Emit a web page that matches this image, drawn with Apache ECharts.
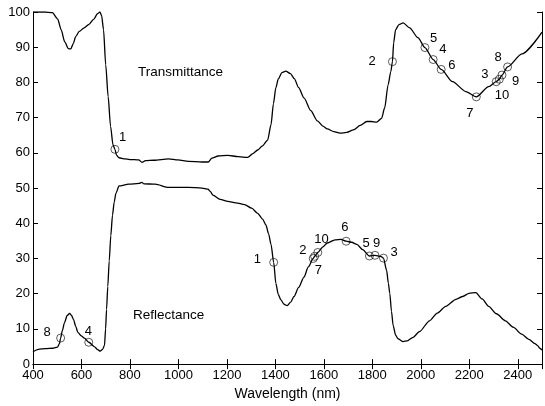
<!DOCTYPE html>
<html>
<head>
<meta charset="utf-8">
<script src="https://cdn.jsdelivr.net/npm/echarts@6/dist/echarts.min.js"></script>
<style>
  html, body { margin: 0; padding: 0; background: #fff; }
  #chart { width: 545px; height: 406px; }
</style>
</head>
<body>
<div id="chart"></div>
<script>
// Leaf spectra: transmittance and reflectance (%) against wavelength (nm)
const transmittance = [
  [400,100],[450,100],[480,99.8],[502,98],[516,95],[531,91.5],[546,89.6],[556,89.5],[566,91],
  [576,93],[591,94.5],[611,95.5],[631,96.5],[651,98],[666,99.5],[676,100],[683,99],[691,95],
  [700,85],[710,76],[720,67.5],[730,62.3],[738,61.0],[745,59.3],[755,58.6],[779,58.3],
  [799,58.1],[836,58.0],[850,57.3],[864,57.8],[899,57.9],[959,58.3],[998,58.0],[1041,57.6],
  [1098,57.4],[1123,57.4],[1138,58.5],[1164,59.1],[1204,59.3],[1247,58.9],[1286,58.7],
  [1307,59.8],[1327,60.8],[1347,62],[1368,63.6],[1382,68],[1392,74],[1402,78.5],[1412,81],
  [1427,82.8],[1443,83.2],[1462,82.5],[1478,81.1],[1496,78.5],[1518,75.6],[1546,72],
  [1573,69.1],[1596,67.6],[1614,66.8],[1641,66],[1667,65.6],[1695,65.8],[1722,66.5],
  [1750,67.8],[1777,68.9],[1795,68.9],[1818,68.7],[1838,69.8],[1851,72.8],[1865,79.3],
  [1876,83.0],[1883,85.9],[1888,91.3],[1896,95.0],[1910,96.4],[1927,96.9],[1954,95.5],
  [1988,92.7],[2017,89.9],[2051,86.5],[2084,83.7],[2131,80.2],[2186,77.4],[2229,75.9],
  [2280,78.8],[2311,80.2],[2324,80.9],[2335,82.1],[2358,84.4],[2417,88.1],[2500,94.3]
];

const reflectance = [
  [400,3.5],[422,4.2],[452,4.4],[482,4.5],[501,4.8],[509,5.8],[514,7.4],[521,9.5],[530,11.8],
  [541,13.8],[551,14.4],[559,13.8],[567,12.7],[576,10.8],[585,9.0],[599,8],[612,7.4],[630,6.2],
  [654,4.9],[667,4.1],[677,3.7],[687,4.2],[695,5.3],[699.5,10],[703.5,15.5],[708.5,22],
  [714.5,29.3],[721,36.5],[728,42.3],[735,46],[742,48.5],[755,50.6],[795,51.1],[838,51.3],
  [849,51.6],[858,51.2],[904,51.1],[959,50.2],[1040,50.2],[1097,50.0],[1122,49.7],[1132,49],
  [1142,48.0],[1172,46.8],[1204,46.2],[1237,45.8],[1273,45.3],[1302,44.3],[1327,42.8],
  [1347,41.2],[1361,39.5],[1372,37],[1382,34.0],[1393,28.9],[1402,22.9],[1412,19.8],
  [1422,18.3],[1436,17.0],[1449,16.6],[1463,17.6],[1477,19.2],[1496,21.8],[1518,24.7],
  [1536,27.6],[1556,30.0],[1562,30.6],[1575,31.7],[1596,33.3],[1614,34.4],[1646,35.3],
  [1671,35.4],[1692,34.9],[1715,34.6],[1736,34.0],[1760,32.5],[1788,30.7],[1811,30.9],
  [1835,30.6],[1846,30.1],[1859,26.6],[1866,23],[1872,20.1],[1879,15],[1886,10.9],[1896,8.2],
  [1906,7.2],[1927,6.4],[1944,6.6],[1968,7.6],[1994,9.2],[2036,12.3],[2068,14.5],[2103,16.4],
  [2145,18.4],[2173,19.2],[2199,20.1],[2227,20.3],[2253,18.5],[2280,16.4],[2312,14.3],
  [2349,12.3],[2381,10.5],[2416,8.5],[2446,7.0],[2471,5.8],[2481,5.3],[2491,4.5],[2500,4.0]
];

// Numbered sample points on each curve
const tMarkIds = ['1','2','5','4','6','7','3','10','9','8'];
const tMarkWl  = [738, 1883, 2017, 2051, 2084, 2229, 2311, 2324, 2335, 2358];
const tMarkVal = [61.0, 85.9, 89.9, 86.5, 83.7, 75.9, 80.2, 80.9, 82.1, 84.4];

const rMarkIds = ['8','4','1','2','7','10','6','5','9','3'];
const rMarkWl  = [514, 630, 1393, 1556, 1562, 1575, 1692, 1788, 1811, 1846];
const rMarkVal = [7.4, 6.2, 28.9, 30.0, 30.6, 31.7, 34.9, 30.7, 30.9, 30.1];

// Axis ticks
const xTicks = { min: 400, max: 2500, step: 200, lastLabel: 2400 };
const yTicks = { min: 0, max: 100, step: 10 };

// Label placement (pixel offsets from each point)
const tLabelOffsets = [[8,-11],[-20,0],[9,-9],[10,-10],[11,-4],[-6,17],[-11,-7],[3,17],[14,7],[-9,-9]];
const rLabelOffsets = [[-13,-5],[0,-10],[-16,-3],[-10,-8],[4,14],[4,-13],[-1,-13],[-3,-12],[2,-11],[11,-5]];

const FONT = "'Liberation Sans', Arial, Helvetica, sans-serif";
const SYMBOL_SIZE = 8;

function markData(ids, wl, val, offsets) {
  return ids.map((id, i) => ({
    value: [wl[i], val[i]],
    label: {
      show: true, formatter: id,
      // label box anchored at the symbol centre, then shifted
      position: [SYMBOL_SIZE / 2 + offsets[i][0], SYMBOL_SIZE / 2 + offsets[i][1]],
      align: 'center', verticalAlign: 'middle',
      color: '#000', opacity: 1, fontFamily: FONT, fontSize: 13
    }
  }));
}

const markerStyle = {
  type: 'scatter',
  symbol: 'circle',
  symbolSize: SYMBOL_SIZE,
  itemStyle: { color: 'rgba(255,255,255,0)', borderColor: '#000', borderWidth: 0.8 },
  emphasis: { disabled: true },
  z: 3
};

const chart = echarts.init(document.getElementById('chart'), null, { renderer: 'canvas' });

const axisCommon = {
  axisLine: { lineStyle: { color: '#000', width: 1 } },
  axisTick: { inside: true, length: 5, lineStyle: { color: '#000', width: 1 } },
  splitLine: { show: false }
};

chart.setOption({
  animation: false,
  backgroundColor: '#fff',
  grid: { left: 33, right: -2, top: 12, bottom: 34 },
  xAxis: [
    Object.assign({
      type: 'value', position: 'bottom', min: xTicks.min, max: xTicks.max, interval: xTicks.step,
      name: 'Wavelength (nm)', nameLocation: 'middle', nameGap: 16,
      nameTextStyle: { color: '#000', fontFamily: FONT, fontSize: 14 },
      axisLabel: { color: '#000', fontFamily: FONT, fontSize: 13, margin: 5,
        formatter: v => (v > xTicks.lastLabel ? '' : String(v)) }
    }, axisCommon),
    Object.assign({
      type: 'value', position: 'top', min: xTicks.min, max: xTicks.max, interval: xTicks.step,
      axisLabel: { show: false }
    }, axisCommon)
  ],
  yAxis: [
    Object.assign({
      type: 'value', position: 'left', min: yTicks.min, max: yTicks.max, interval: yTicks.step,
      axisLabel: { color: '#000', fontFamily: FONT, fontSize: 13, margin: 3 }
    }, axisCommon),
    Object.assign({
      type: 'value', position: 'right', min: yTicks.min, max: yTicks.max, interval: yTicks.step,
      axisLabel: { show: false }
    }, axisCommon)
  ],
  graphic: [
    { type: 'text', left: 138, top: 65,
      style: { text: 'Transmittance', font: '13.5px ' + FONT, fill: '#000' } },
    { type: 'text', left: 133, top: 308,
      style: { text: 'Reflectance', font: '13.5px ' + FONT, fill: '#000' } }
  ],
  series: [
    { name: 'Transmittance', type: 'line', data: transmittance, showSymbol: false,
      smooth: 0.25, smoothMonotone: 'x',
      lineStyle: { color: '#000', width: 1.3 }, emphasis: { disabled: true }, z: 2 },
    { name: 'Reflectance', type: 'line', data: reflectance, showSymbol: false,
      smooth: 0.25, smoothMonotone: 'x',
      lineStyle: { color: '#000', width: 1.3 }, emphasis: { disabled: true }, z: 2 },
    Object.assign({ name: 'T points', data: markData(tMarkIds, tMarkWl, tMarkVal, tLabelOffsets) }, markerStyle),
    Object.assign({ name: 'R points', data: markData(rMarkIds, rMarkWl, rMarkVal, rLabelOffsets) }, markerStyle)
  ]
});
</script>
</body>
</html>
